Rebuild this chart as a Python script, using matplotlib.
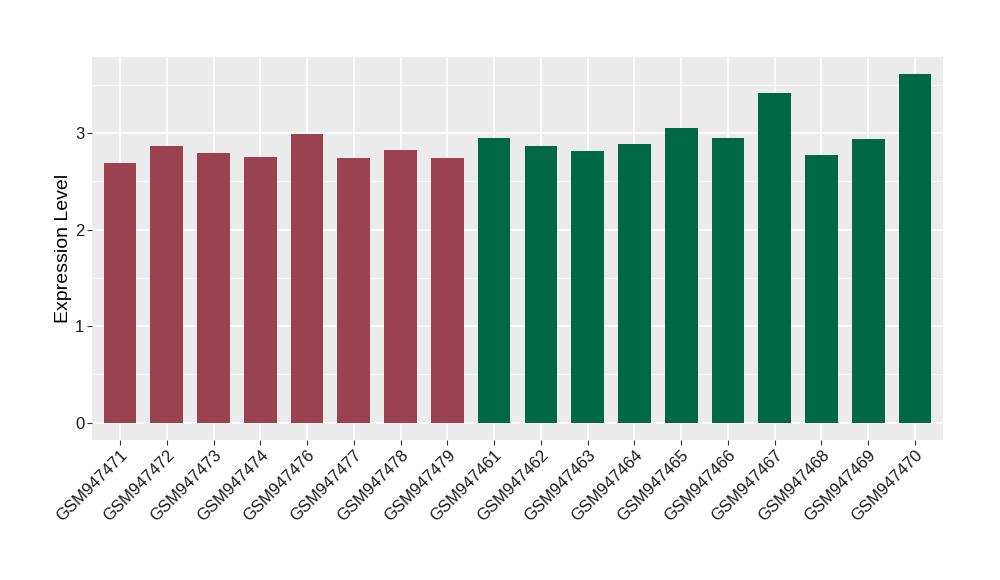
import matplotlib
matplotlib.use("Agg")
import matplotlib.pyplot as plt
from matplotlib.ticker import MultipleLocator

# ===== Data =====
samples = ["GSM947471", "GSM947472", "GSM947473", "GSM947474", "GSM947476",
           "GSM947477", "GSM947478", "GSM947479", "GSM947461", "GSM947462",
           "GSM947463", "GSM947464", "GSM947465", "GSM947466", "GSM947467",
           "GSM947468", "GSM947469", "GSM947470"]
values = [2.69, 2.87, 2.79, 2.75, 2.99, 2.74, 2.83, 2.74, 2.95, 2.87,
          2.82, 2.89, 3.05, 2.95, 3.42, 2.77, 2.94, 3.61]
groups = ["a"] * 8 + ["b"] * 10
group_colors = {"a": "#9B4250", "b": "#006844"}
# ================

plt.rcParams['font.family'] = ['Liberation Sans', 'DejaVu Sans']


def main():
    fig = plt.figure(figsize=(10, 5.8), dpi=100)
    ax = fig.add_axes([0.092, 0.2414, 0.851, 0.6603])
    ax.set_facecolor("#EBEBEB")

    x = list(range(len(samples)))
    ax.bar(x, values, width=0.7, color=[group_colors[g] for g in groups], zorder=3)

    ax.set_xlim(-0.6, len(samples) - 0.4)
    ax.set_ylim(-0.18, 3.79)
    ax.yaxis.set_major_locator(MultipleLocator(1))
    ax.yaxis.set_minor_locator(MultipleLocator(0.5))
    ax.grid(which="major", color="white", linewidth=1.1, zorder=0)
    ax.grid(which="minor", axis="y", color="white", linewidth=0.5, zorder=0)
    ax.tick_params(which="minor", length=0)

    ax.set_xticks(x)
    ax.set_xticklabels(samples, rotation=45, ha="right", rotation_mode="anchor",
                       fontsize=12, color="#1a1a1a")
    ax.tick_params(axis="both", which="major", length=3.5, color="#333333",
                   labelsize=12, pad=2)
    ax.tick_params(axis="y", labelcolor="#1a1a1a")
    for s in ax.spines.values():
        s.set_visible(False)

    ax.set_ylabel("Expression Level", fontsize=14, labelpad=2)

    fig.savefig("out.png", dpi=100)


if __name__ == "__main__":
    main()
